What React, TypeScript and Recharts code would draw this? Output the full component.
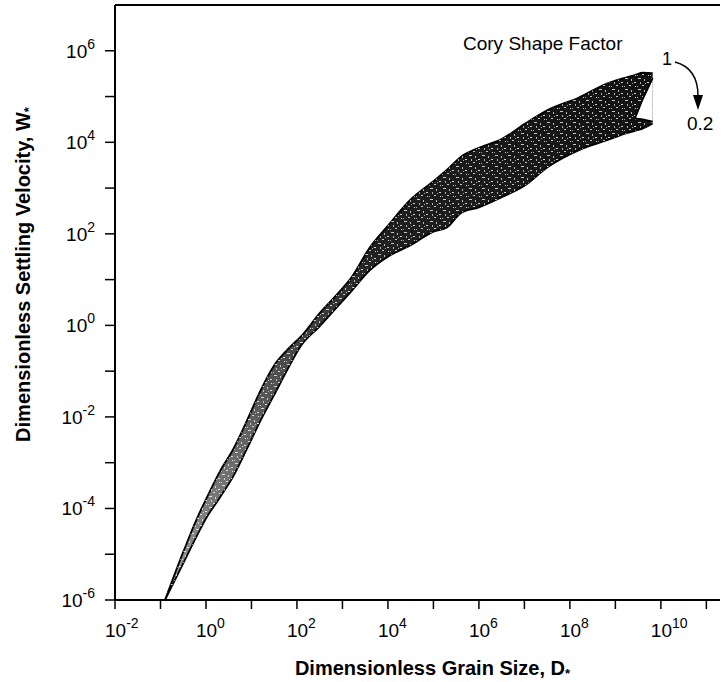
import { ComposedChart, Area, XAxis, YAxis, ReferenceLine, Customized } from 'recharts';

// band outline, as log10 exponents
const xExp = [-0.9, -0.5, -0.2, 0.0, 0.3, 0.6, 0.9, 1.2, 1.5, 1.8, 2.1, 2.5, 2.9, 3.2, 3.6, 4.0, 4.5, 5.0, 5.3, 5.6, 6.0, 6.5, 7.0, 7.5, 8.2, 8.8, 9.25, 9.43, 9.6, 9.82];
const highExp = [-6, -4.95, -4.22, -3.8, -3.2, -2.7, -2.08, -1.42, -0.87, -0.52, -0.23, 0.27, 0.7, 1.05, 1.7, 2.18, 2.75, 3.15, 3.4, 3.68, 3.88, 4.07, 4.4, 4.7, 4.98, 5.28, 5.42, 5.47, 5.52, 5.51];
const lowExp = [-6, -5.2, -4.6, -4.22, -3.77, -3.3, -2.7, -2.08, -1.52, -0.95, -0.43, -0.02, 0.42, 0.75, 1.2, 1.5, 1.75, 2.05, 2.14, 2.45, 2.58, 2.8, 3.05, 3.45, 3.83, 4.04, 4.2, 4.25, 4.3, 4.41];

// notch at the right end of the band
const notchXExp = [9.43, 9.6, 9.82];
const notchLowExp = [4.52, 4.5, 4.45];
const notchHighExp = [4.52, 4.94, 5.4];

const xTickExp = [-2, -1, 0, 1, 2, 3, 4, 5, 6, 7, 8, 9, 10, 11];
const yTickExp = [-6, -5, -4, -3, -2, -1, 0, 1, 2, 3, 4, 5, 6];

const FONT = '"Liberation Sans", Arial, Helvetica, sans-serif';

const rows = xExp.map((e, i) => {
  const n = notchXExp.indexOf(e);
  return {
    x: 10 ** e,
    band: [10 ** lowExp[i], 10 ** highExp[i]],
    notch: n >= 0 ? [10 ** notchLowExp[n], 10 ** notchHighExp[n]] : undefined,
  };
});

const expOf = (v: number) => Math.round(Math.log10(v));

function XTick(props: any) {
  const { x, y, payload } = props;
  const e = expOf(payload.value);
  if (e % 2 !== 0) return null;
  return (
    <text x={x - 10} y={y + 26} fontFamily={FONT} fontSize={19} fill="#000">
      10<tspan fontSize={14} dy={-9}>{e}</tspan>
    </text>
  );
}

function YTick(props: any) {
  const { x, y, payload } = props;
  const e = expOf(payload.value);
  if (e % 2 !== 0) return null;
  return (
    <text x={x} y={y + 7} textAnchor="end" fontFamily={FONT} fontSize={19} fill="#000">
      10<tspan fontSize={14} dy={-9}>{e}</tspan>
    </text>
  );
}

function Notes() {
  return (
    <g fontFamily={FONT} fill="#000">
      <text x={463} y={50} fontSize={19}>Cory Shape Factor</text>
      <text x={662} y={65} fontSize={18}>1</text>
      <text x={687} y={130} fontSize={19}>0.2</text>
      <path d="M675 62 C690 66 698 76 698 96" fill="none" stroke="#000" strokeWidth={1.5} />
      <path d="M693 95 L703 95 L698 110 Z" fill="#000" />
    </g>
  );
}

export default function App() {
  return (
    <div style={{ position: 'absolute', left: 0, top: 0, background: '#fff' }}>
      <ComposedChart width={724} height={682} data={rows} margin={{ top: 5, right: 4, left: 0, bottom: 0 }}>
        <defs>
          <linearGradient id="bandShade" x1="0" y1="1" x2="1" y2="0">
            <stop offset="0%" stopColor="#9a9a9a" />
            <stop offset="30%" stopColor="#555" />
            <stop offset="55%" stopColor="#202020" />
            <stop offset="100%" stopColor="#111" />
          </linearGradient>
          <pattern id="speck" width="13" height="11" patternUnits="userSpaceOnUse">
            <rect x="1" y="1" width="3" height="1" fill="#fff" opacity={0.75} />
            <rect x="7" y="2" width="1" height="2" fill="#fff" opacity={0.7} />
            <rect x="10" y="5" width="2" height="1" fill="#fff" opacity={0.8} />
            <rect x="3" y="5" width="1" height="2" fill="#fff" opacity={0.65} />
            <rect x="5" y="8" width="2" height="1" fill="#fff" opacity={0.75} />
            <rect x="11" y="9" width="1" height="1" fill="#fff" opacity={0.8} />
            <rect x="0" y="9" width="1" height="1" fill="#fff" opacity={0.6} />
            <rect x="8" y="6" width="1" height="1" fill="#fff" opacity={0.6} />
          </pattern>
        </defs>
        <XAxis
          dataKey="x"
          type="number"
          scale="log"
          domain={[1e-2, 10 ** 11.3]}
          allowDataOverflow
          ticks={xTickExp.map((e) => 10 ** e)}
          interval={0}
          tick={<XTick />}
          tickSize={9}
          tickMargin={2}
          height={82}
          axisLine={{ stroke: '#000', strokeWidth: 2 }}
          tickLine={{ stroke: '#000', strokeWidth: 1.5 }}
          label={{
            content: (p: any) => (
              <text x={p.viewBox.x + p.viewBox.width / 2 + 15} y={p.viewBox.y + 75} textAnchor="middle"
                fontFamily={FONT} fontSize={20} fontWeight="bold" fill="#000">
                Dimensionless Grain Size, D<tspan fontSize={13} dy={3}>*</tspan>
              </text>
            ),
          }}
        />
        <YAxis
          type="number"
          scale="log"
          domain={[1e-6, 1e7]}
          allowDataOverflow
          ticks={yTickExp.map((e) => 10 ** e)}
          interval={0}
          tick={<YTick />}
          tickSize={10}
          tickMargin={10}
          width={115}
          axisLine={{ stroke: '#000', strokeWidth: 2 }}
          tickLine={{ stroke: '#000', strokeWidth: 1.5 }}
          label={{
            content: (p: any) => {
              const cy = p.viewBox.y + p.viewBox.height / 2 - 28;
              return (
                <text x={30} y={cy} transform={`rotate(-90, 30, ${cy})`} textAnchor="middle"
                  fontFamily={FONT} fontSize={20} fontWeight="bold" fill="#000">
                  Dimensionless Settling Velocity, W<tspan fontSize={13} dy={3}>*</tspan>
                </text>
              );
            },
          }}
        />
        <ReferenceLine y={1e7} stroke="#000" strokeWidth={2} />
        <Area type="monotone" dataKey="band" stroke="#000" strokeWidth={1.8} fill="url(#bandShade)" fillOpacity={1} dot={false} activeDot={false} isAnimationActive={false} />
        <Area type="monotone" dataKey="band" stroke="none" fill="url(#speck)" fillOpacity={1} dot={false} activeDot={false} isAnimationActive={false} />
        <Area type="linear" dataKey="notch" stroke="#000" strokeWidth={1.8} fill="#fff" fillOpacity={1} dot={false} activeDot={false} isAnimationActive={false} />
        <Customized component={Notes} />
      </ComposedChart>
    </div>
  );
}
